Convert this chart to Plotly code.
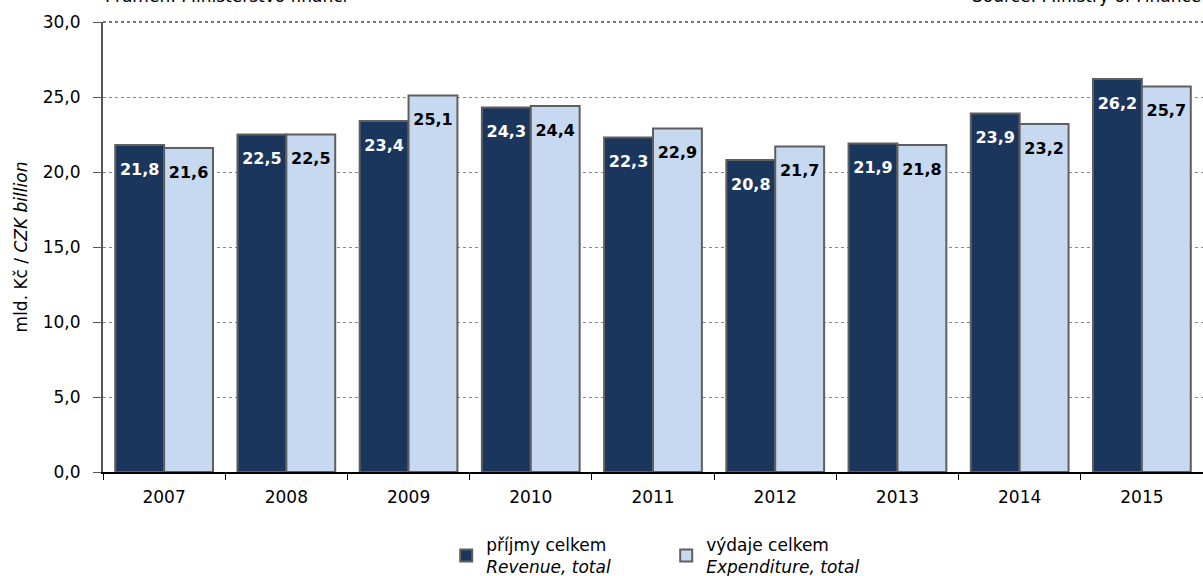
import plotly.graph_objects as go

years = ["2007", "2008", "2009", "2010", "2011", "2012", "2013", "2014", "2015"]
revenue = [21.8, 22.5, 23.4, 24.3, 22.3, 20.8, 21.9, 23.9, 26.2]
expenditure = [21.6, 22.5, 25.1, 24.4, 22.9, 21.7, 21.8, 23.2, 25.7]

font = "DejaVu Sans, Arial, sans-serif"
label_drop = 1.7  # labels sit a little below the top of each bar

fig = go.Figure()
fig.add_trace(go.Bar(
    x=years, y=revenue, name="příjmy celkem<br><i>Revenue, total</i>",
    marker=dict(color="#1b365d", line=dict(color="#5f5f5f", width=2)),
    offsetgroup="rev",
))
fig.add_trace(go.Bar(
    x=years, y=expenditure, name="výdaje celkem<br><i>Expenditure, total</i>",
    marker=dict(color="#c6d9f0", line=dict(color="#5f5f5f", width=2)),
    offsetgroup="exp",
))
fig.add_trace(go.Scatter(
    x=years, y=[v - label_drop for v in revenue], mode="text",
    text=[f"{v:.1f}".replace(".", ",") for v in revenue],
    textfont=dict(color="white", size=16, family=font, weight="bold"),
    offsetgroup="rev", showlegend=False, hoverinfo="skip",
))
fig.add_trace(go.Scatter(
    x=years, y=[v - label_drop for v in expenditure], mode="text",
    text=[f"{v:.1f}".replace(".", ",") for v in expenditure],
    textfont=dict(color="black", size=16, family=font, weight="bold"),
    offsetgroup="exp", showlegend=False, hoverinfo="skip",
))

fig.update_layout(
    width=1203, height=576,
    margin=dict(l=103, r=0, t=22, b=104, autoexpand=False),
    paper_bgcolor="white", plot_bgcolor="white",
    separators=", ",
    font=dict(family=font, size=17, color="black"),
    barmode="group", bargap=0.2, bargroupgap=0,
    scattermode="group", scattergap=0.2,
    showlegend=True,
    legend=dict(orientation="h", x=0.312, xanchor="left", y=-0.122, yanchor="top",
                font=dict(size=17), entrywidth=175, itemwidth=30, traceorder="normal"),
)
fig.update_xaxes(
    showline=True, linecolor="black", linewidth=2,
    ticks="outside", tickson="boundaries", ticklen=6, tickcolor="black",
    tickfont=dict(size=17), ticklabelstandoff=9,
)
fig.update_yaxes(
    range=[0, 30], dtick=5, tickformat=".1f",
    showline=True, linecolor="#555555", linewidth=2,
    ticks="outside", ticklen=8, tickcolor="#555555",
    showgrid=True, gridcolor="#888888", griddash="dot", gridwidth=1,
    tickfont=dict(size=17), ticklabelstandoff=9,
    title=dict(text="mld. Kč / <i>CZK billion</i>", font=dict(size=17), standoff=11),
)
# top border line at 30,0
fig.add_shape(type="line", xref="paper", yref="paper", x0=0, x1=1, y0=1, y1=1,
              line=dict(color="#777777", width=2, dash="dot"))
fig.add_annotation(text="Pramen: Ministerstvo financí", xref="paper", yref="paper",
                   x=0, y=1, xanchor="left", yanchor="bottom", yshift=14,
                   showarrow=False, font=dict(size=17))
fig.add_annotation(text="Source: Ministry of Finance", xref="paper", yref="paper",
                   x=1, y=1, xanchor="right", yanchor="bottom", yshift=14,
                   showarrow=False, font=dict(size=17))

# drop the default 8px page margin so the figure fills the window
fig.write_html("out.html", config={"displayModeBar": False},
               post_script="document.body.style.margin='0';")
